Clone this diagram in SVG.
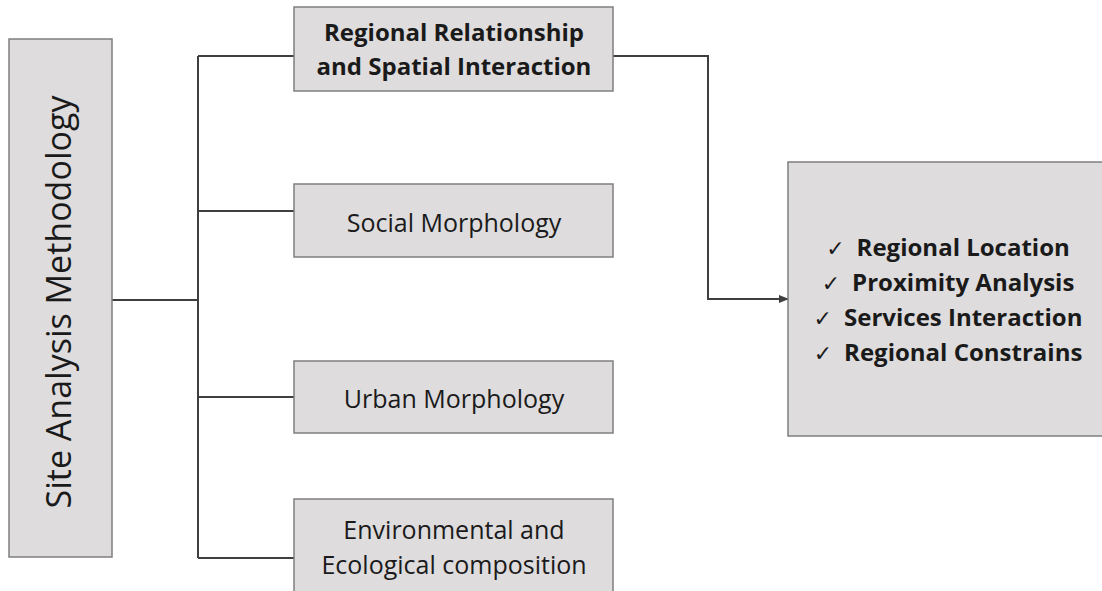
<svg xmlns="http://www.w3.org/2000/svg" width="1102" height="591" viewBox="0 0 1102 591">
<defs>
<style>
.box{fill:#dedcdd;stroke:#7f7f7f;stroke-width:1.5}
.con{fill:none;stroke:#3f3f3f;stroke-width:2}
.t{font-family:"Open Sans","Liberation Sans",sans-serif;fill:#1a1a1a;text-anchor:middle}
.r{font-size:25px}
.b{font-size:24px;font-weight:bold}
.bl{font-size:24px;font-weight:bold}
.ck{font-family:"DejaVu Sans",sans-serif;font-size:22px;font-weight:normal}
</style>
<marker id="arr" markerWidth="10" markerHeight="8" refX="9" refY="4" orient="auto" markerUnits="userSpaceOnUse">
<path d="M0,0 L10,4 L0,8 Z" fill="#3f3f3f"/>
</marker>
</defs>
<rect width="1102" height="591" fill="#ffffff"/>
<g id="connectors">
<line class="con" x1="112" y1="300" x2="198" y2="300"/>
<line class="con" x1="198" y1="56" x2="198" y2="558"/>
<line class="con" x1="198" y1="56" x2="294" y2="56"/>
<line class="con" x1="198" y1="211" x2="294" y2="211"/>
<line class="con" x1="198" y1="397" x2="294" y2="397"/>
<line class="con" x1="198" y1="558" x2="294" y2="558"/>
<polyline class="con" points="613,56 708,56 708,299 788,299" marker-end="url(#arr)"/>
</g>
<g id="site-analysis">
<rect class="box" x="9" y="39" width="103" height="518"/>
<text class="t r" style="font-size:34px" transform="translate(71,302) rotate(-90)">Site Analysis Methodology</text>
</g>
<g id="regional">
<rect class="box" x="294" y="7" width="319" height="84"/>
<text class="t b" x="454" y="41">Regional Relationship</text>
<text class="t b" x="454" y="75">and Spatial Interaction</text>
</g>
<g id="social">
<rect class="box" x="294" y="184" width="319" height="73"/>
<text class="t r" x="454" y="232">Social Morphology</text>
</g>
<g id="urban">
<rect class="box" x="294" y="361" width="319" height="72"/>
<text class="t r" x="454" y="408">Urban Morphology</text>
</g>
<g id="environmental">
<rect class="box" x="294" y="499" width="319" height="100"/>
<text class="t r" x="454" y="539">Environmental and</text>
<text class="t r" x="454" y="574">Ecological composition</text>
</g>
<g id="outputs">
<rect class="box" x="788" y="162" width="320" height="274"/>
<text class="t bl" x="948" y="256"><tspan class="ck">✓</tspan><tspan dx="12">Regional Location</tspan></text>
<text class="t bl" x="948" y="291"><tspan class="ck">✓</tspan><tspan dx="12">Proximity Analysis</tspan></text>
<text class="t bl" x="948" y="326"><tspan class="ck">✓</tspan><tspan dx="12">Services Interaction</tspan></text>
<text class="t bl" x="948" y="361"><tspan class="ck">✓</tspan><tspan dx="12">Regional Constrains</tspan></text>
</g>
</svg>
